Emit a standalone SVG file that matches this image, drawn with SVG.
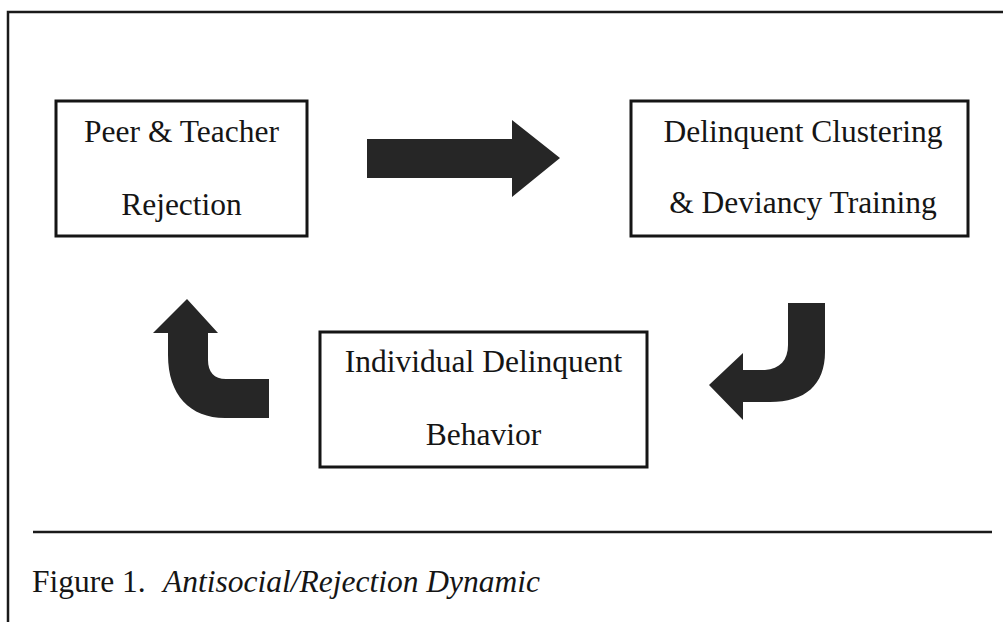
<svg xmlns="http://www.w3.org/2000/svg" width="1003" height="622" viewBox="0 0 1003 622">
<style>
.box{fill:#fff;stroke:#151515;stroke-width:3}
.t{font-family:"Liberation Serif","Times New Roman",serif;font-size:31.5px;fill:#151515;text-anchor:middle}
.cap{font-family:"Liberation Serif","Times New Roman",serif;font-size:31.5px;fill:#151515}
.arr{fill:#262626}
.rule{stroke:#1a1a1a;stroke-width:2.5;fill:none}
</style>
<rect width="1003" height="622" fill="#fff"/>
<path class="rule" d="M8 622 L8 12 L1003 12"/>
<g id="node-rejection">
<rect class="box" x="56" y="101" width="251" height="135"/>
<text class="t" x="181.5" y="142">Peer &amp; Teacher</text>
<text class="t" x="181.5" y="215">Rejection</text>
</g>
<g id="node-clustering">
<rect class="box" x="631" y="101" width="337" height="135"/>
<text class="t" x="803" y="142">Delinquent Clustering</text>
<text class="t" x="803" y="213">&amp; Deviancy Training</text>
</g>
<g id="node-behavior">
<rect class="box" x="320" y="332" width="327" height="135"/>
<text class="t" x="483.5" y="372">Individual Delinquent</text>
<text class="t" x="483.5" y="445">Behavior</text>
</g>
<g id="connectors">
<path class="arr" d="M367 139 L512 139 L512 120 L560 158 L512 197 L512 178 L367 178 Z"/>
<path class="arr" d="M788 303 L825 303 L825 352 C825 385 805 402 770 402 L743 402 L743 420 L709 385 L743 353 L743 370 L765 370 C780 369 788 360 788 345 Z"/>
<path class="arr" d="M269 379 L226 379 C214 379 208 372 208 360 L208 333 L218 333 L187 299 L153 333 L168 333 L168 355 C168 395 190 418 225 418 L269 418 Z"/>
</g>
<line class="rule" x1="33" y1="532" x2="992" y2="532"/>
<text class="cap" x="32" y="592">Figure 1.</text>
<text class="cap" x="163" y="592" font-style="italic">Antisocial/Rejection Dynamic</text>
</svg>
